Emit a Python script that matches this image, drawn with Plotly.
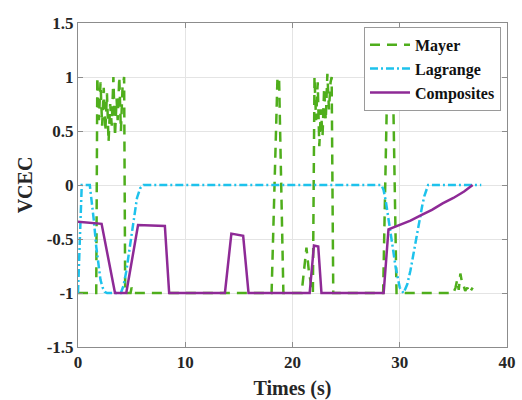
import plotly.graph_objects as go

# ---- data ----
mayer_t = [0.0, 1.70, 1.80, 1.95, 2.10, 2.25, 2.40, 2.55, 2.70, 2.85, 3.00, 3.15, 3.30, 3.45, 3.60, 3.70,
           3.85, 4.00, 4.15, 4.30, 4.40, 4.90, 5.00, 5.10, 5.20, 18.05, 18.60, 18.75, 19.15, 20.85, 21.30,
           21.55, 21.90, 22.05, 22.20, 22.35, 22.50, 22.65, 22.80, 22.95, 23.10, 23.25, 23.40, 23.55, 23.65,
           23.80, 28.45, 28.80, 28.95, 29.10, 29.25, 29.40, 29.70, 35.00, 35.20, 35.35, 35.50, 35.65, 35.80,
           35.95, 36.10, 36.30, 36.50, 36.80]
mayer_v = [-1.0, -1.0, 1.0, 0.6, 0.95, 0.55, 0.9, 0.5, 0.85, 0.4, 0.75, 0.55, 1.0, 0.45, 0.8, 0.6,
           1.0, 0.5, 0.9, 1.0, -1.0, -1.0, -0.95, -1.0, -1.0, -1.0, 1.0, 0.98, -1.0, -1.0, -0.58,
           -0.82, -1.0, 1.0, 0.6, 0.95, 0.36, 0.7, 0.45, 0.9, 0.6, 1.03, 0.7, 0.95, 1.0,
           -1.0, -1.0, 0.78, 0.85, 0.75, 0.82, 0.76, -1.0, -1.0, -0.95, -0.88, -0.97, -0.82, -0.9,
           -0.93, -0.98, -0.95, -1.0, -0.95]

lagrange_t = [0.0, 0.2, 0.35, 1.1, 1.3, 1.5, 1.7, 1.9, 2.1, 2.3, 2.5, 2.7, 4.0, 4.25, 4.5, 4.75, 5.0,
              5.25, 5.5, 5.8, 6.1, 28.3, 28.5, 28.7, 28.9, 29.1, 29.35, 29.6, 29.8, 30.0, 30.35, 30.7,
              31.0, 31.25, 31.5, 31.7, 31.9, 32.1, 32.3, 32.65, 37.6]
lagrange_v = [-1.0, -0.5, 0.0, 0.0, -0.15, -0.35, -0.57, -0.75, -0.88, -0.95, -0.99, -1.0, -1.0, -0.93,
              -0.8, -0.63, -0.45, -0.27, -0.12, -0.03, 0.0, 0.0, -0.05, -0.15, -0.27, -0.4, -0.58, -0.75,
              -0.87, -0.95, -1.0, -0.92, -0.79, -0.65, -0.5, -0.4, -0.3, -0.19, -0.1, 0.0, 0.0]

comp_t = [0.0, 2.2, 3.45, 4.5, 5.6, 8.1, 8.5, 13.7, 14.3, 15.4, 15.9, 21.6, 22.0, 22.4, 22.7,
          28.5, 28.95, 30.0, 31.0, 32.0, 33.0, 34.0, 35.0, 36.0, 36.8]
comp_v = [-0.34, -0.36, -1.0, -1.0, -0.37, -0.38, -1.0, -1.0, -0.45, -0.47, -1.0, -1.0, -0.56, -0.57, -1.0,
          -1.0, -0.41, -0.37, -0.33, -0.28, -0.23, -0.17, -0.12, -0.06, 0.0]

y_ticks = [-1.5, -1, -0.5, 0, 0.5, 1, 1.5]
y_labels = ["-1.5", "-1", "-0.5", "0", "0.5", "1", "1.5"]
x_ticks = [0, 10, 20, 30, 40]

FONT = "Liberation Serif"
fig = go.Figure()
fig.add_trace(go.Scatter(x=mayer_t, y=mayer_v, mode="lines", name="Mayer",
                         line=dict(color="#4FAE1C", width=2.5, dash="10px,7px")))
fig.add_trace(go.Scatter(x=lagrange_t, y=lagrange_v, mode="lines", name="Lagrange",
                         line=dict(color="#1EC2EC", width=2.5, dash="8px,3px,2px,3px")))
fig.add_trace(go.Scatter(x=comp_t, y=comp_v, mode="lines", name="Composites",
                         line=dict(color="#8E2A96", width=2.5)))

axis_common = dict(showline=True, mirror="ticks", linecolor="#8c8c8c", linewidth=1,
                   ticks="inside", ticklen=5, tickcolor="#8c8c8c", automargin=False,
                   showgrid=True, gridcolor="#e4e4e4", gridwidth=1, zeroline=False,
                   tickfont=dict(family=FONT, size=17, color="#262626", weight="bold"))

fig.update_layout(
    width=522, height=400,
    margin=dict(l=78, r=15, t=23, b=53),
    paper_bgcolor="white", plot_bgcolor="white",
    showlegend=True,
    legend=dict(x=0.986, y=0.988, xanchor="right", yanchor="top",
                bgcolor="white", bordercolor="#9a9a9a", borderwidth=1,
                font=dict(family=FONT, size=16, color="#111111", weight="bold"),
                itemwidth=40, tracegroupgap=0),
    xaxis=dict(range=[0, 40], tickvals=x_ticks,
               title=dict(text="Times (s)", standoff=9,
                          font=dict(family=FONT, size=20, color="#262626", weight="bold")),
               **axis_common),
    yaxis=dict(range=[-1.5, 1.5], tickvals=y_ticks, ticktext=y_labels,
               title=dict(text="VCEC", standoff=8,
                          font=dict(family=FONT, size=20, color="#262626", weight="bold")),
               **axis_common),
)

fig.write_html("out.html", config={"displayModeBar": False},
               post_script="document.body.style.margin='0';document.body.style.overflow='hidden';")
